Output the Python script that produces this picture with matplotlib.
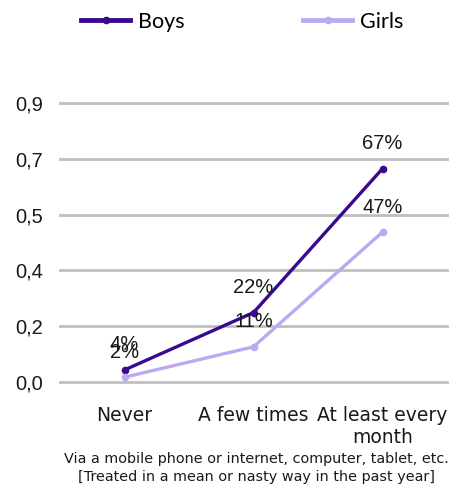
import matplotlib
matplotlib.use("Agg")
import matplotlib.pyplot as plt
from matplotlib.lines import Line2D

categories = ["Never", "A few times", "At least every\nmonth"]
boys = [0.038, 0.219, 0.673]
girls = [0.015, 0.111, 0.473]
boys_labels = ["4%", "22%", "67%"]
girls_labels = ["2%", "11%", "47%"]
yticks = [0.0, 0.176, 0.352, 0.528, 0.704, 0.88]
ytick_labels = ["0,0", "0,2", "0,4", "0,5", "0,7", "0,9"]
subtitle = "Via a mobile phone or internet, computer, tablet, etc.\n[Treated in a mean or nasty way in the past year]"

boys_color = "#3a0a8e"
girls_color = "#bba9f2"
grid_color = "#bfbfbf"

W, H = 449, 486
fig = plt.figure(figsize=(W / 100, H / 100), dpi=100)
ax = fig.add_axes([60 / W, (H - 382) / H, 387 / W, 279 / H])

x = list(range(len(categories)))
ax.plot(x, boys, color=boys_color, lw=2.4, marker="o", ms=4.5, zorder=3, solid_capstyle="round")
ax.plot(x, girls, color=girls_color, lw=2.4, marker="o", ms=4.5, zorder=3, solid_capstyle="round")

for xi, v, lab in zip(x, boys, boys_labels):
    ax.annotate(lab, (xi, v), xytext=(0, 18), textcoords="offset points",
                ha="center", va="center", fontsize=14.5, family="Liberation Sans", color="#1a1a1a")
for xi, v, lab in zip(x, girls, girls_labels):
    ax.annotate(lab, (xi, v), xytext=(0, 18), textcoords="offset points",
                ha="center", va="center", fontsize=14.5, family="Liberation Sans", color="#1a1a1a")

ax.set_xlim(-0.5, 2.5)
ax.set_ylim(0, 0.88)
ax.set_yticks(yticks)
ax.set_yticklabels(ytick_labels, family="Liberation Sans", fontsize=14.5, color="#1a1a1a")
ax.yaxis.grid(True, color=grid_color, lw=2)
for gl in ax.get_ygridlines():
    gl.set_clip_on(False)
ax.set_axisbelow(True)
ax.tick_params(axis="y", length=0, pad=12)
ax.set_xticks(x)
ax.set_xticklabels(categories, family="DejaVu Sans", fontsize=13.5, color="#1a1a1a", linespacing=1.25)
ax.tick_params(axis="x", length=0, pad=17)
for s in ax.spines.values():
    s.set_visible(False)

fig.text(256 / W, 1 - 468 / H, subtitle, ha="center", va="center", fontsize=10.4,
         family="DejaVu Sans", color="#1a1a1a", linespacing=1.4)

handles = [Line2D([], [], color=boys_color, lw=3.5, marker="o", ms=4.5),
           Line2D([], [], color=girls_color, lw=3.5, marker="o", ms=4.5)]
fig.legend(handles, ["Boys", "Girls"], loc="center", bbox_to_anchor=(242 / W, 1 - 22 / H),
           ncol=2, frameon=False, prop={"family": "Lato", "size": 15.5},
           handlelength=2.3, handletextpad=0.35, columnspacing=5.5)

fig.savefig("out.png", dpi=100)
